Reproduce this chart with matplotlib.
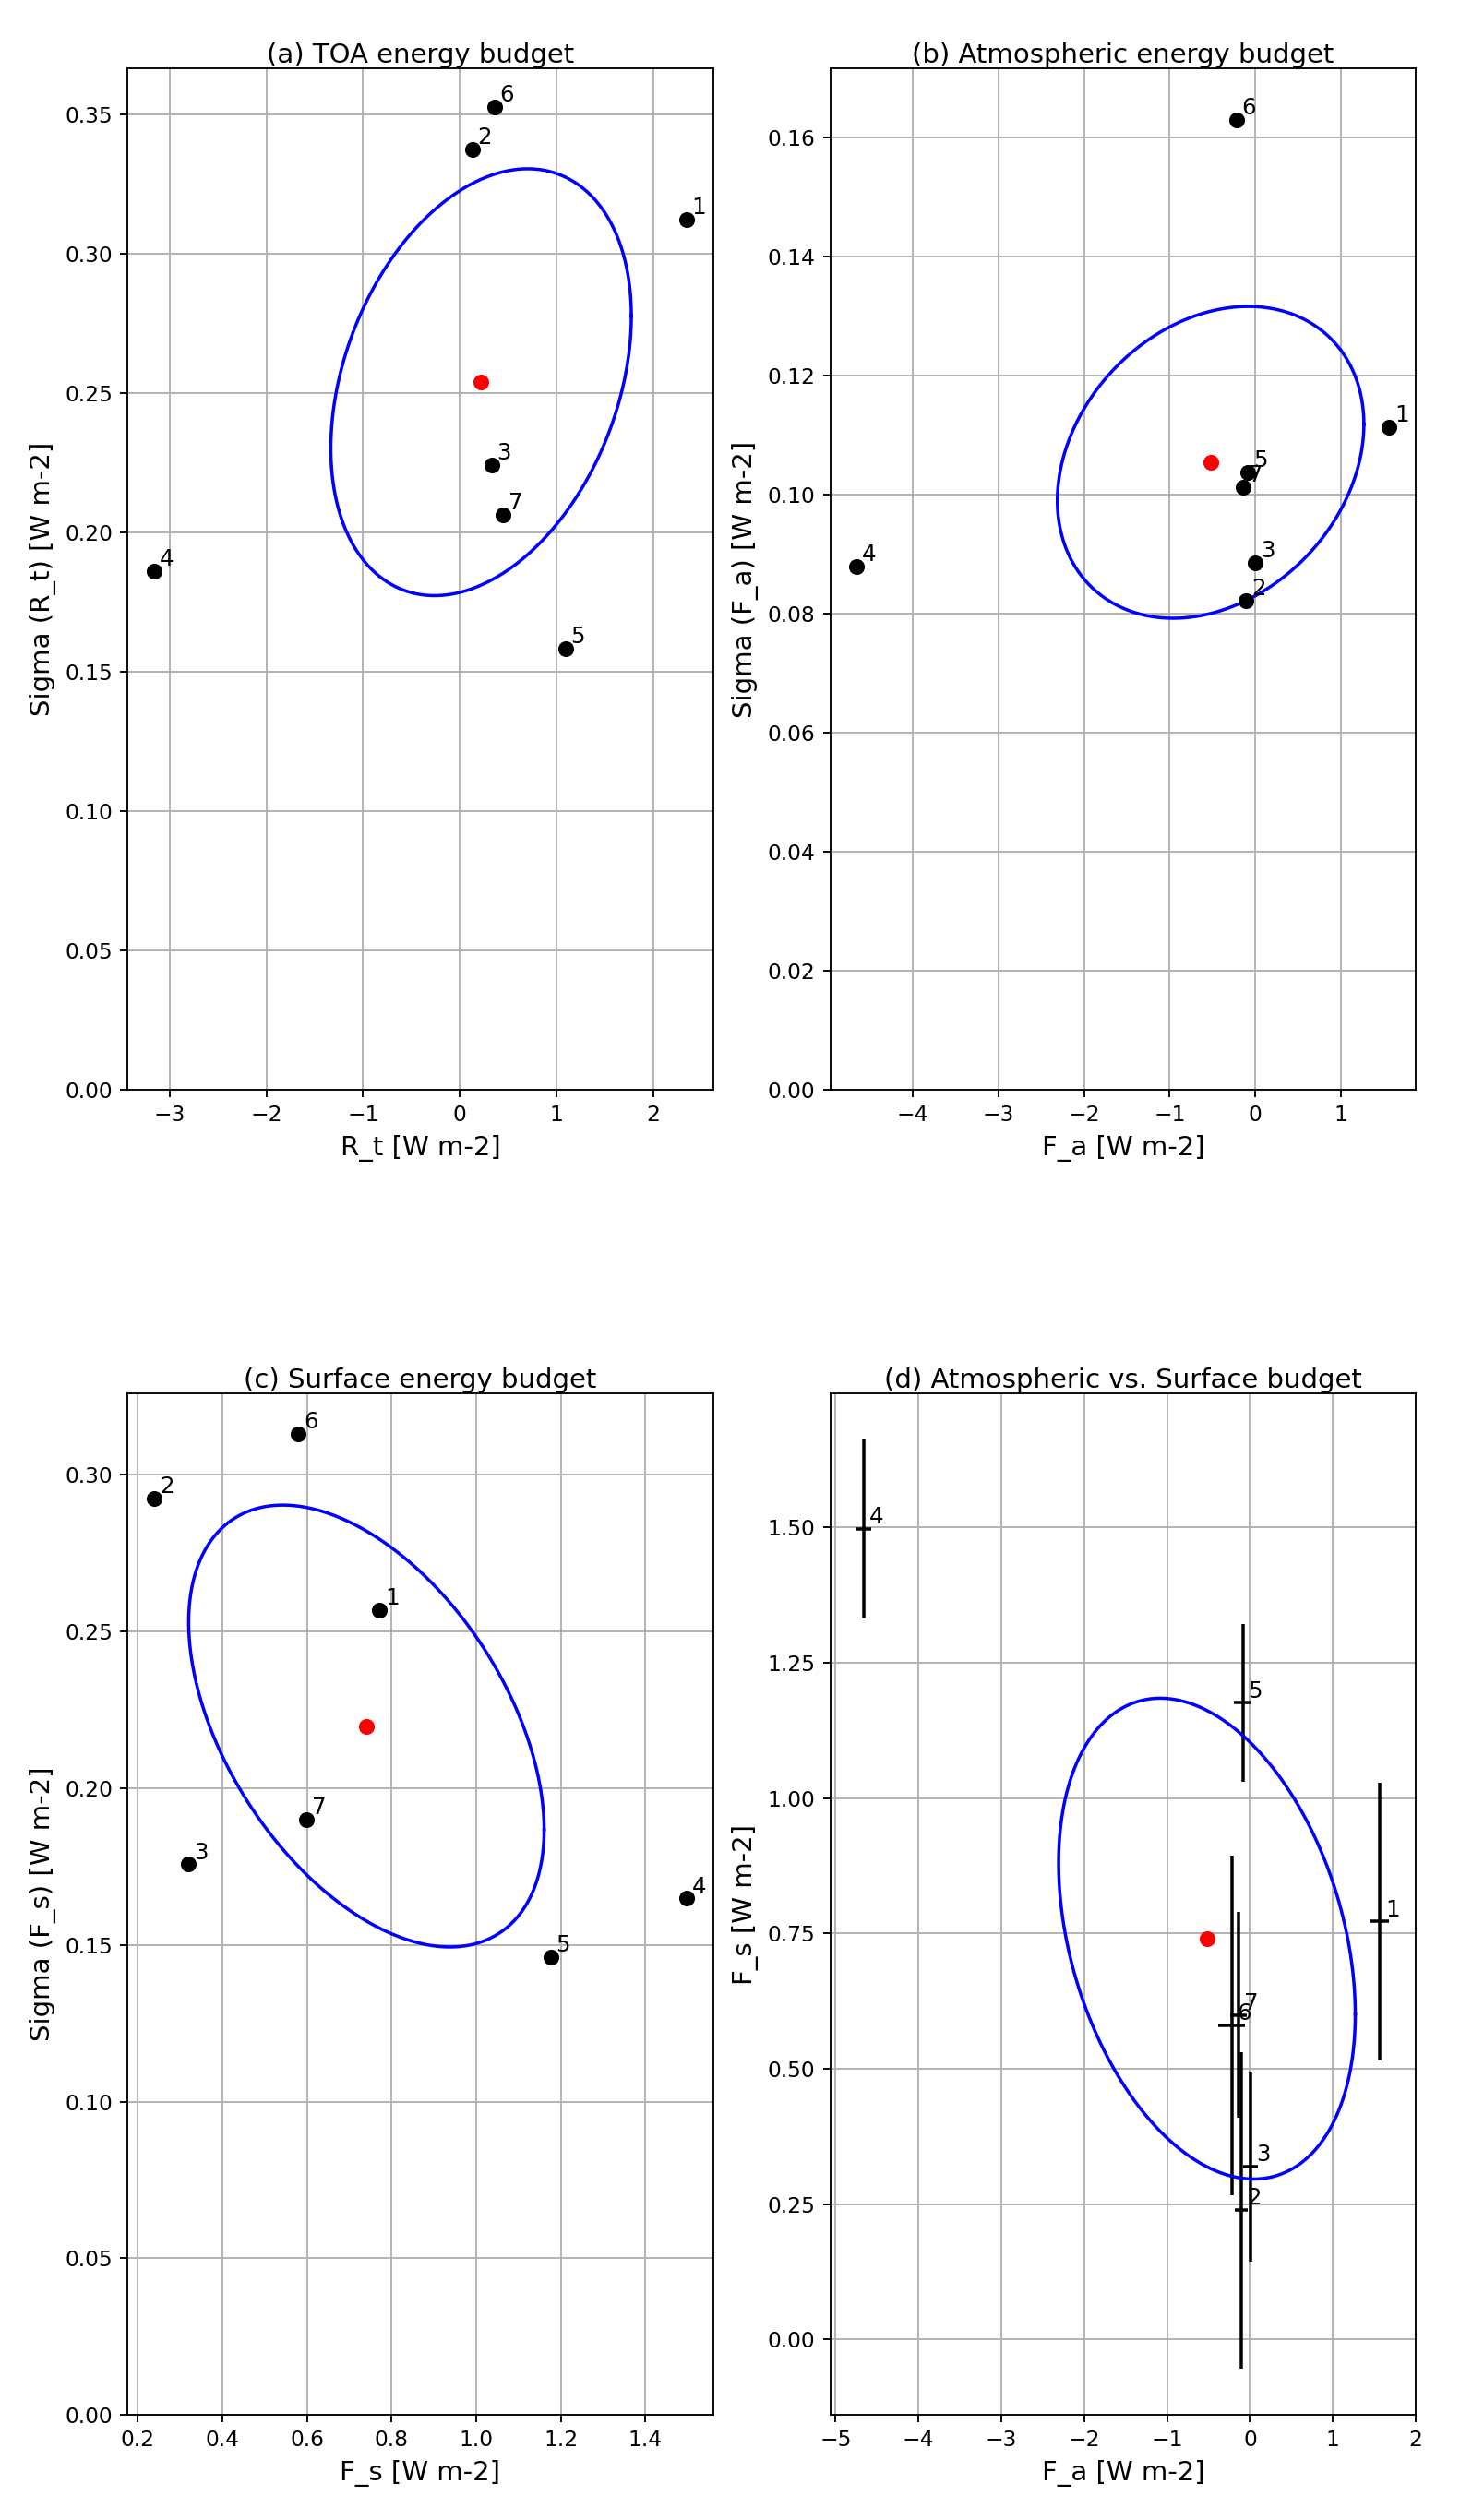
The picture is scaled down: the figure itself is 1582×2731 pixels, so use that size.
import numpy as np
import matplotlib
matplotlib.use("Agg")
import matplotlib.pyplot as plt
from matplotlib.ticker import MultipleLocator

# model numbers
models = ["1", "2", "3", "4", "5", "6", "7"]

# TOA net radiation and its sigma
R_t = [2.343, 0.130, 0.329, -3.159, 1.092, 0.357, 0.444]
sig_R_t = [0.3123, 0.3376, 0.2243, 0.1863, 0.1585, 0.3528, 0.2064]

# atmospheric energy budget
F_a = [1.568, -0.104, 0.005, -4.656, -0.087, -0.219, -0.142]
sig_F_a = [0.1114, 0.0822, 0.0886, 0.0880, 0.1038, 0.1630, 0.1013]

# surface energy budget
F_s = [0.772, 0.239, 0.320, 1.497, 1.176, 0.580, 0.599]
sig_F_s = [0.2569, 0.2925, 0.1757, 0.1648, 0.1460, 0.3130, 0.1899]

# spread ellipses (a, b, c, d): std in x, std in y, correlation
ell_sx = [1.553, 1.792, 0.420, 1.790]
ell_sy = [0.0766, 0.0262, 0.0705, 0.444]
ell_rho = [0.31, 0.245, -0.47, -0.315]


def sigma_ellipse(ax, x, y, k):
    # 1-sigma ellipse centred on the multi-model mean
    mx, my = np.mean(x), np.mean(y)
    sx, sy, rho = ell_sx[k], ell_sy[k], ell_rho[k]
    t = np.linspace(0, 2 * np.pi, 200)
    ex = mx + sx * np.cos(t)
    ey = my + sy * (rho * np.cos(t) + np.sqrt(1 - rho ** 2) * np.sin(t))
    ax.plot(ex, ey, color="blue", lw=1.5, scalex=False, scaley=False)
    ax.scatter([mx], [my], color="red", s=40, zorder=3)


def label_points(ax, x, y):
    for i, m in enumerate(models):
        ax.annotate(m, (x[i], y[i]), xytext=(2.5, 2.5),
                    textcoords="offset points", fontsize=10.5)


fig, axs = plt.subplots(2, 2, figsize=(1582 / 168, 2731 / 168), dpi=168)
fig.subplots_adjust(left=0.0874, right=0.9697, top=0.9729, bottom=0.0417,
                    wspace=0.2, hspace=0.297)

# (a)
ax = axs[0, 0]
ax.scatter(R_t, sig_R_t, color="k", s=40, zorder=3)
label_points(ax, R_t, sig_R_t)
sigma_ellipse(ax, R_t, sig_R_t, 0)
ax.set_ylim(0, 0.3667)
ax.xaxis.set_major_locator(MultipleLocator(1))
ax.yaxis.set_major_locator(MultipleLocator(0.05))
ax.set_xlabel("R_t [W m-2]", fontsize=12.5)
ax.set_ylabel("Sigma (R_t) [W m-2]", fontsize=12.5)
ax.set_title("(a) TOA energy budget", pad=0.5, fontsize=12.5)
ax.grid(True)

# (b)
ax = axs[0, 1]
ax.scatter(F_a, sig_F_a, color="k", s=40, zorder=3)
label_points(ax, F_a, sig_F_a)
sigma_ellipse(ax, F_a, sig_F_a, 1)
ax.set_ylim(0, 0.1717)
ax.xaxis.set_major_locator(MultipleLocator(1))
ax.yaxis.set_major_locator(MultipleLocator(0.02))
ax.set_xlabel("F_a [W m-2]", fontsize=12.5)
ax.set_ylabel("Sigma (F_a) [W m-2]", fontsize=12.5)
ax.set_title("(b) Atmospheric energy budget", pad=0.5, fontsize=12.5)
ax.grid(True)

# (c)
ax = axs[1, 0]
ax.scatter(F_s, sig_F_s, color="k", s=40, zorder=3)
label_points(ax, F_s, sig_F_s)
sigma_ellipse(ax, F_s, sig_F_s, 2)
ax.set_ylim(0, 0.326)
ax.xaxis.set_major_locator(MultipleLocator(0.2))
ax.yaxis.set_major_locator(MultipleLocator(0.05))
ax.set_xlabel("F_s [W m-2]", fontsize=12.5)
ax.set_ylabel("Sigma (F_s) [W m-2]", fontsize=12.5)
ax.set_title("(c) Surface energy budget", pad=0.5, fontsize=12.5)
ax.grid(True)

# (d)
ax = axs[1, 1]
ax.errorbar(F_a, F_s, xerr=sig_F_a, yerr=sig_F_s, fmt="none",
            ecolor="k", elinewidth=1.5)
label_points(ax, F_a, F_s)
sigma_ellipse(ax, F_a, F_s, 3)
ax.xaxis.set_major_locator(MultipleLocator(1))
ax.yaxis.set_major_locator(MultipleLocator(0.25))
ax.set_xlabel("F_a [W m-2]", fontsize=12.5)
ax.set_ylabel("F_s [W m-2]", fontsize=12.5)
ax.set_title("(d) Atmospheric vs. Surface budget", pad=0.5, fontsize=12.5)
ax.grid(True)

fig.savefig("out.png", dpi=168)
